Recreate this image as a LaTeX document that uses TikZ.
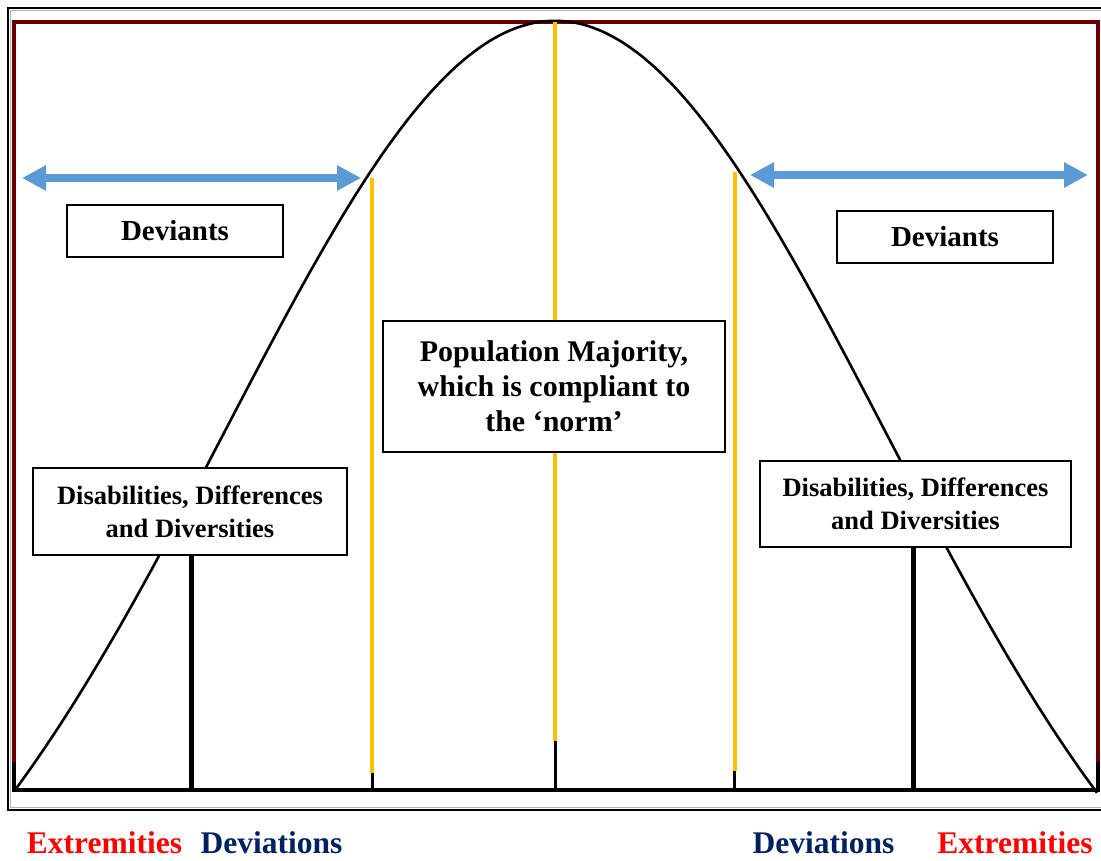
\documentclass[tikz,border=0pt]{standalone}
\usepackage{fontspec}
\setmainfont{Liberation Serif}
\usetikzlibrary{arrows.meta}
\definecolor{framered}{HTML}{660000}
\definecolor{normgold}{HTML}{FFC000}
\definecolor{arrowblue}{HTML}{5B9BD5}
\definecolor{navy}{HTML}{002060}
\definecolor{hotred}{HTML}{FF0000}
\begin{document}
\begin{tikzpicture}[x=1pt,y=-1pt,
  labelbox/.style={draw=black,line width=1.4pt,fill=white,align=center,inner sep=0pt,font=\bfseries},
  goldline/.style={normgold,line width=4pt},
  stemline/.style={black,line width=3pt},
  thickstem/.style={black,line width=5pt},
  spanarrow/.style={arrowblue,line width=8pt,{Triangle[length=24pt,width=24pt]}-{Triangle[length=24pt,width=24pt]}},
  axislabel/.style={font=\bfseries\fontsize{31.5}{34}\selectfont,anchor=base,inner sep=0pt}]
\useasboundingbox (0,0) rectangle (1101,860);
% outer frame (black with grey inner rule)
\draw[black,line width=2.5pt] (1105,8) -- (8,8) -- (8,810) -- (1105,810);
\draw[gray!60,line width=1pt] (1105,10.8) -- (10.8,10.8) -- (10.8,807.2) -- (1105,807.2);
% chart frame
\draw[framered,line width=4pt] (13.5,763) -- (13.5,21.5) -- (1097.5,21.5) -- (1097.5,763);
\draw[black,line width=4pt] (13.5,762) -- (13.5,790);
\draw[black,line width=4pt] (1097.5,762) -- (1097.5,790);
% baseline axis
\coordinate (axL) at (11.5,789.5);
\coordinate (axR) at (1099.5,789.5);
\draw[black,line width=4pt] (axL) -- (axR);
% bell curve
\draw[black,line width=2.6pt] plot[domain=15:1097,samples=220,smooth]
  (\x,{790-769*(exp(-0.5*((\x-555)/330)^2)-0.2622)/0.7378});
% majority band and centre
\coordinate (gL1) at (372,178);   \coordinate (gL2) at (372,773);   \coordinate (gL3) at (372,790);
\coordinate (gC1) at (555,22);    \coordinate (gC2) at (555,741);   \coordinate (gC3) at (555,790);
\coordinate (gR1) at (734.5,172); \coordinate (gR2) at (734.5,771); \coordinate (gR3) at (734.5,790);
\draw[goldline] (gL1) -- (gL2);
\draw[stemline] (gL2) -- (gL3);
\draw[goldline] (gC1) -- (gC2);
\draw[stemline] (gC2) -- (gC3);
\draw[goldline] (gR1) -- (gR2);
\draw[stemline] (gR2) -- (gR3);
% deviant spans
\coordinate (aL1) at (22,178);  \coordinate (aL2) at (361,178);
\coordinate (aR1) at (750,175); \coordinate (aR2) at (1088,175);
\draw[spanarrow] (aL1) -- (aL2);
\draw[spanarrow] (aR1) -- (aR2);
% boxes
\node[labelbox,minimum width=216pt,minimum height=52pt,font=\bfseries\fontsize{29}{33}\selectfont] (devL) at (175,231) {Deviants};
\node[labelbox,minimum width=216pt,minimum height=52pt,font=\bfseries\fontsize{29}{33}\selectfont] (devR) at (945,237) {Deviants};
\node[labelbox,minimum width=342pt,minimum height=131pt,font=\bfseries\fontsize{30}{35}\selectfont] (major) at (554,386.5) {Population Majority,\\which is compliant to\\the ‘norm’};
\node[labelbox,minimum width=314pt,minimum height=87pt,font=\bfseries\fontsize{26.5}{33}\selectfont] (dddL) at (190,511.5) {Disabilities, Differences\\and Diversities};
\node[labelbox,minimum width=311pt,minimum height=86pt,font=\bfseries\fontsize{26.5}{33}\selectfont] (dddR) at (915.5,504) {Disabilities, Differences\\and Diversities};
% stems from the 3D boxes to the axis
\coordinate (sL) at (191,790);
\coordinate (sR) at (913,790);
\draw[thickstem] (dddL.south -| sL) -- (sL);
\draw[thickstem] (dddR.south -| sR) -- (sR);
% axis labels
\node[axislabel,text=hotred] (exL) at (104.5,853) {Extremities};
\node[axislabel,text=navy] (dvL) at (271.5,853) {Deviations};
\node[axislabel,text=navy] (dvR) at (823.5,853) {Deviations};
\node[axislabel,text=hotred] (exR) at (1015,853) {Extremities};
\end{tikzpicture}
\end{document}
